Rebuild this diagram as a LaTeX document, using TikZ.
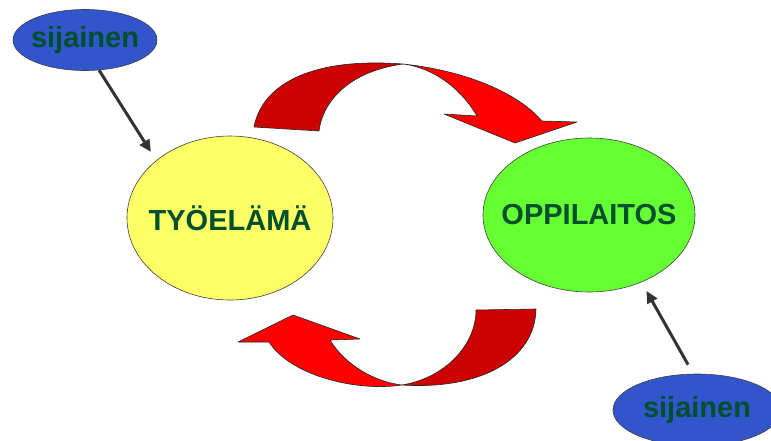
\documentclass[tikz,border=0pt]{standalone}
\usepackage{fontspec}
\newfontfamily\labfont{Liberation Sans}
\usetikzlibrary{shapes.geometric,arrows.meta}
\definecolor{bubbleyellow}{HTML}{FFFF66}
\definecolor{bubblegreen}{HTML}{66FF33}
\definecolor{bubbleblue}{HTML}{3355CC}
\definecolor{labelgreen}{HTML}{00502E}
\definecolor{ribbondark}{HTML}{CC0000}
\definecolor{ribbonlight}{HTML}{FF0000}
\definecolor{pointer}{HTML}{333333}
% a label of zero width, so the ellipse keeps the size it is given
\newcommand{\bubbletext}[1]{\makebox[0pt]{#1}}
\tikzset{
  bubble/.style={ellipse, draw=black!75, line width=0.6pt, inner sep=0pt,
    text=labelgreen, font=\labfont\bfseries\fontsize{29}{30}\selectfont},
  ribbon/.style={draw=black!85, line width=0.6pt, line join=round},
  pointerline/.style={draw=pointer, line width=3pt,
    -{Triangle[length=12pt,width=11pt]}},
}
\begin{document}
\begin{tikzpicture}[x=1pt,y=-1pt]
\useasboundingbox (0,0) rectangle (771,440);
\clip (0,0) rectangle (771,440);
\fill[white] (0,0) rectangle (771,440);

% main bubbles
\node[bubble, fill=bubbleyellow, minimum width=206pt, minimum height=164pt] (tyo) at (230,218) {\bubbletext{TYÖELÄMÄ}};
\node[bubble, fill=bubblegreen, minimum width=212pt, minimum height=154pt] (opp) at (589,215) {\bubbletext{OPPILAITOS}};

% location tags
\node[bubble, fill=bubbleblue, minimum width=144pt, minimum height=61pt] (sij1) at (85,40) {\bubbletext{sijainen}};
\node[bubble, fill=bubbleblue, minimum width=168pt, minimum height=72pt] (sij2) at (697,410) {\bubbletext{sijainen}};

% pointers from the tags to the bubbles
\draw[pointerline, shorten >=10pt] (sij1.-65.5) -- (tyo.142.9);
\draw[pointerline, shorten <=10.4pt, shorten >=10pt] (sij2.96) -- (opp.-52.9);

% upper ribbon arrow: dark rising half
\path[ribbon, fill=ribbondark]
  (254,127) .. controls (262,85) and (310,57) .. (403,64)
  .. controls (345,72) and (322,105) .. (319,131) -- cycle;
% upper ribbon arrow: light falling half with head
\path[ribbon, fill=ribbonlight]
  (403,64) .. controls (460,70) and (515,90) .. (542,121)
  -- (577,122) -- (515,143) -- (444,114) -- (477,116)
  .. controls (462,90) and (435,68) .. (403,64) -- cycle;

% lower ribbon arrow: dark falling half
\path[ribbon, fill=ribbondark]
  (536,309) .. controls (535,360) and (480,390) .. (402,385)
  .. controls (445,378) and (476,345) .. (476,310) -- cycle;
% lower ribbon arrow: light rising half with head
\path[ribbon, fill=ribbonlight]
  (402,385) .. controls (355,392) and (290,375) .. (269,342)
  -- (238,342) -- (293,315) -- (360,339) -- (330,340)
  .. controls (345,365) and (375,382) .. (402,385) -- cycle;
\end{tikzpicture}
\end{document}
